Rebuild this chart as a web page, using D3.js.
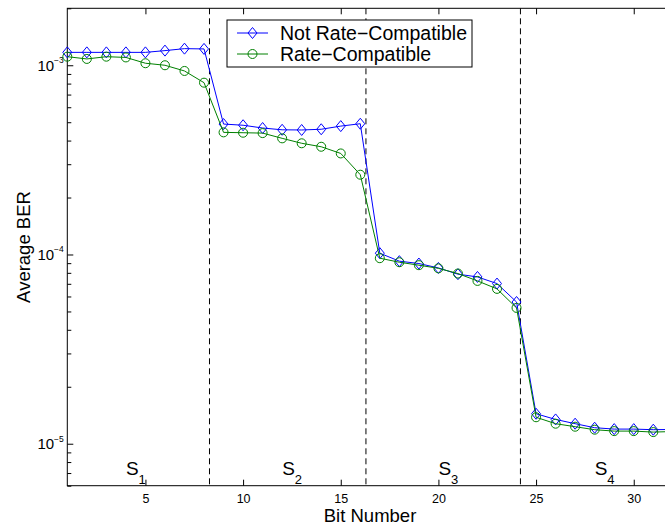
<!DOCTYPE html>
<html>
<head>
<meta charset="utf-8">
<script src="https://cdn.jsdelivr.net/npm/d3@7"></script>
<style>
  body { margin: 0; background: #fff; }
  svg { display: block; font-family: "Liberation Sans", Arial, Helvetica, sans-serif; }
</style>
</head>
<body>
<div id="chart"></div>
<script>
// average BER per bit position
const bits = d3.range(1, 33);
const notRateCompat = [
  1.17e-3, 1.17e-3, 1.17e-3, 1.17e-3, 1.17e-3, 1.195e-3, 1.224e-3, 1.22e-3,
  4.89e-4, 4.82e-4, 4.66e-4, 4.56e-4, 4.55e-4, 4.59e-4, 4.77e-4, 4.91e-4,
  1.016e-4, 9.22e-5, 8.96e-5, 8.49e-5, 7.87e-5, 7.61e-5, 7.02e-5, 5.61e-5,
  1.44e-5, 1.344e-5, 1.276e-5, 1.215e-5, 1.195e-5, 1.195e-5, 1.186e-5, 1.19e-5
];
const rateCompat = [
  1.11e-3, 1.08e-3, 1.11e-3, 1.10e-3, 1.025e-3, 1.0e-3, 9.33e-4, 8.09e-4,
  4.42e-4, 4.40e-4, 4.38e-4, 4.11e-4, 3.87e-4, 3.71e-4, 3.42e-4, 2.64e-4,
  9.56e-5, 9.1e-5, 8.78e-5, 8.45e-5, 7.93e-5, 7.25e-5, 6.58e-5, 5.22e-5,
  1.38e-5, 1.276e-5, 1.23e-5, 1.186e-5, 1.166e-5, 1.166e-5, 1.152e-5, 1.16e-5
];
const seriesNames = ["Not Rate\u2212Compatible", "Rate\u2212Compatible"];
const xTicks = [5, 10, 15, 20, 25, 30];
const yMajor = [1e-5, 1e-4, 1e-3];
const yMajorExp = ["\u22125", "\u22124", "\u22123"];
const boundaries = [8.28, 16.29, 24.2];
const stageLabels = ["1", "2", "3", "4"];
const stageStart = [4, 12, 20, 28];

const W = 665, H = 527;
const pLeft = 67.3, pTop = 8.3, pRight = 672.8, pBottom = 485.7;

const svg = d3.select('#chart').append('svg')
  .attr('width', W)
  .attr('height', H);

const x = d3.scaleLinear().domain([1, 32]).range([pLeft, pRight]);
const y = d3.scaleLog().domain([6e-6, 2e-3]).range([pBottom, pTop]);

// minor ticks 2..9 in each decade
let yMinor = [];
[1e-6, 1e-5, 1e-4, 1e-3].forEach(d => {
  for (let k = 2; k <= 9; k++) {
    const v = k * d;
    if (v >= 6e-6 && v <= 2e-3) yMinor.push(v);
  }
});

// frame
svg.append('rect')
  .attr('x', pLeft).attr('y', pTop)
  .attr('width', pRight - pLeft).attr('height', pBottom - pTop)
  .attr('fill', 'none').attr('stroke', '#000').attr('stroke-width', 1);

// bottom axis
const gx = svg.append('g')
  .attr('transform', `translate(0,${pBottom})`)
  .call(d3.axisBottom(x).tickValues(xTicks).tickSizeInner(-6).tickSizeOuter(0).tickPadding(8));
gx.select('.domain').remove();
gx.selectAll('text').style('font-size', '12.5px').attr('fill', '#000');

// top axis ticks
const gt = svg.append('g')
  .attr('transform', `translate(0,${pTop})`)
  .call(d3.axisTop(x).tickValues(xTicks).tickSizeInner(-6).tickSizeOuter(0).tickFormat(''));
gt.select('.domain').remove();

// left axis: minor and major ticks
const gyMinor = svg.append('g')
  .attr('transform', `translate(${pLeft},0)`)
  .call(d3.axisLeft(y).tickValues(yMinor).tickSizeInner(-4).tickSizeOuter(0).tickFormat(''));
gyMinor.select('.domain').remove();

const gy = svg.append('g')
  .attr('transform', `translate(${pLeft},0)`)
  .call(d3.axisLeft(y).tickValues(yMajor).tickSizeInner(-6).tickSizeOuter(0).tickFormat(''));
gy.select('.domain').remove();

svg.selectAll('line').attr('stroke', '#000');

// y tick labels as 10^k
const yl = svg.append('g');
yMajor.forEach((v, i) => {
  const t = yl.append('text')
    .attr('x', pLeft - 3.5)
    .attr('y', y(v) + 5.5)
    .attr('text-anchor', 'end')
    .style('font-size', '15px');
  t.append('tspan').text('10');
  t.append('tspan').attr('dy', -7.5).style('font-size', '8.5px').text(yMajorExp[i]);
});

// stage boundaries
svg.append('g').selectAll('line')
  .data(boundaries)
  .join('line')
  .attr('x1', d => x(d)).attr('x2', d => x(d))
  .attr('y1', pTop).attr('y2', pBottom)
  .attr('stroke', '#000')
  .attr('stroke-dasharray', '6,4');

// stage labels S_k
stageLabels.forEach((s, i) => {
  const t = svg.append('text')
    .attr('x', x(stageStart[i]))
    .attr('y', y(6.8e-6))
    .style('font-size', '19px');
  t.append('tspan').text('S');
  t.append('tspan').attr('dy', 9).style('font-size', '13px').text(s);
});

// lines + markers
const line = d3.line()
  .x((d, i) => x(bits[i]))
  .y(d => y(d));

const blue = '#0000ff', green = '#008000';

function diamondPath(cx, cy) {
  const hw = 4.5, hh = 5.5;
  return `M${cx},${cy - hh}L${cx + hw},${cy}L${cx},${cy + hh}L${cx - hw},${cy}Z`;
}

svg.append('path')
  .datum(notRateCompat)
  .attr('fill', 'none').attr('stroke', blue).attr('stroke-width', 1)
  .attr('d', line);
svg.append('g').selectAll('path')
  .data(notRateCompat)
  .join('path')
  .attr('d', (d, i) => diamondPath(x(bits[i]), y(d)))
  .attr('fill', 'none').attr('stroke', blue).attr('stroke-width', 1);

svg.append('path')
  .datum(rateCompat)
  .attr('fill', 'none').attr('stroke', green).attr('stroke-width', 1)
  .attr('d', line);
svg.append('g').selectAll('circle')
  .data(rateCompat)
  .join('circle')
  .attr('cx', (d, i) => x(bits[i]))
  .attr('cy', d => y(d))
  .attr('r', 4.5)
  .attr('fill', 'none').attr('stroke', green).attr('stroke-width', 1);

// axis labels
svg.append('text')
  .attr('x', (pLeft + pRight) / 2)
  .attr('y', 522)
  .attr('text-anchor', 'middle')
  .style('font-size', '18.5px')
  .text('Bit Number');

svg.append('text')
  .attr('transform', `translate(30,${(pTop + pBottom) / 2}) rotate(-90)`)
  .attr('text-anchor', 'middle')
  .style('font-size', '18.5px')
  .text('Average BER');

// legend
const lg = svg.append('g');
lg.append('rect')
  .attr('x', 227).attr('y', 20)
  .attr('width', 245).attr('height', 47)
  .attr('fill', '#fff').attr('stroke', '#000').attr('stroke-width', 1);
const rows = [33, 54];
lg.append('line').attr('x1', 237).attr('x2', 268).attr('y1', rows[0]).attr('y2', rows[0]).attr('stroke', blue);
lg.append('path').attr('d', diamondPath(252.5, rows[0])).attr('fill', 'none').attr('stroke', blue);
lg.append('line').attr('x1', 237).attr('x2', 268).attr('y1', rows[1]).attr('y2', rows[1]).attr('stroke', green);
lg.append('circle').attr('cx', 252.5).attr('cy', rows[1]).attr('r', 4.5).attr('fill', 'none').attr('stroke', green);
seriesNames.forEach((s, i) => {
  lg.append('text')
    .attr('x', 280)
    .attr('y', rows[i] + 7)
    .style('font-size', '19.5px')
    .text(s);
});
</script>
</body>
</html>
